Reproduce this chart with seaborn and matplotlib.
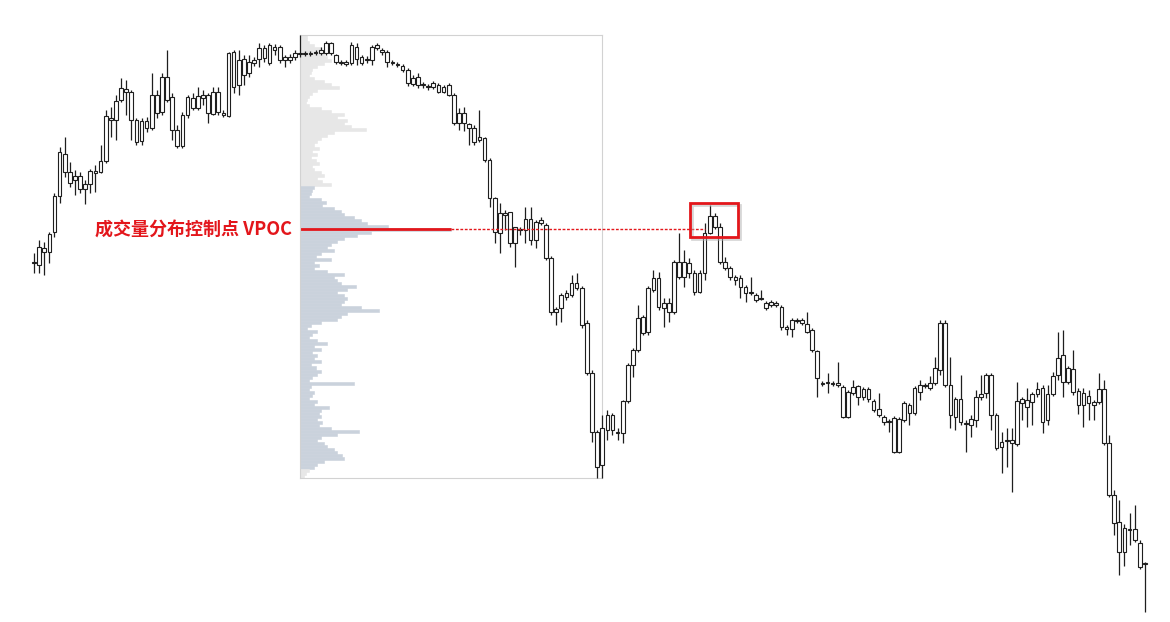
import matplotlib
matplotlib.use("Agg")
import matplotlib.pyplot as plt
from matplotlib.patches import Rectangle
from matplotlib.transforms import offset_copy
import numpy as np
import seaborn as sns

# OHLC (arbitrary price units)
opens = [377, 375, 388, 388, 408, 444, 486, 468, 464, 464,
         451, 456, 467, 468, 479, 520, 520, 540, 551, 548,
         520, 499, 512, 512, 527, 528, 563, 543, 494, 494,
         525, 532, 532, 545, 527, 526, 548, 525, 524, 588,
         555, 581, 567, 577, 581, 592, 577, 593, 593, 580,
         580, 583, 587, 586, 587, 587, 587, 587, 597, 585,
         578, 576, 577, 593, 583, 580, 580, 595, 590, 588,
         578, 576, 574, 570, 556, 563, 556, 554, 553, 555,
         548, 555, 545, 517, 527, 516, 512, 500, 502, 480,
         442, 407, 427, 428, 397, 411, 410, 421, 400, 417,
         415, 382, 328, 332, 343, 345, 357, 352, 317, 267,
         208, 175, 210, 225, 208, 207, 239, 275, 290, 323,
         308, 350, 362, 337, 328, 328, 378, 363, 377, 367,
         348, 367, 407, 424, 413, 378, 372, 363, 362, 353,
         348, 345, 342, 337, 335, 337, 333, 313, 311, 320,
         320, 316, 310, 289, 257, 257, 257, 255, 253, 223,
         247, 254, 243, 251, 239, 231, 223, 219, 222, 188,
         220, 235, 227, 248, 255, 252, 257, 270, 317, 255,
         223, 241, 217, 215, 220, 243, 247, 265, 225, 193,
         200, 200, 196, 237, 240, 238, 246, 252, 220, 246,
         265, 285, 258, 271, 249, 235, 244, 238, 238, 251,
         197, 145, 118, 88, 111, 111, 97, 77]
closes = [378, 393, 392, 406, 444, 488, 468, 457, 460, 451,
          456, 469, 469, 479, 524, 522, 539, 552, 548, 520,
          498, 519, 519, 545, 545, 563, 540, 510, 510, 525,
          543, 542, 544, 542, 545, 548, 528, 527, 587, 553,
          580, 565, 578, 580, 592, 582, 595, 590, 580, 583,
          583, 587, 586, 587, 586, 588, 590, 597, 587, 578,
          577, 578, 595, 581, 577, 581, 593, 592, 588, 578,
          577, 575, 570, 557, 562, 555, 555, 553, 557, 548,
          553, 545, 517, 527, 517, 512, 498, 503, 480, 442,
          408, 427, 425, 397, 413, 410, 421, 400, 418, 420,
          382, 328, 331, 345, 347, 357, 352, 315, 267, 208,
          173, 212, 225, 210, 207, 239, 275, 290, 322, 307,
          352, 362, 333, 332, 337, 378, 363, 378, 367, 348,
          367, 407, 424, 413, 378, 372, 363, 360, 353, 347,
          347, 340, 341, 332, 338, 335, 313, 311, 320, 319,
          317, 308, 290, 262, 256, 258, 256, 257, 223, 248,
          253, 243, 251, 241, 230, 225, 218, 218, 188, 221,
          237, 227, 252, 255, 254, 257, 272, 317, 255, 225,
          241, 218, 216, 221, 243, 246, 265, 225, 192, 198,
          199, 197, 239, 241, 233, 246, 251, 218, 246, 264,
          282, 258, 272, 248, 235, 247, 237, 235, 251, 197,
          145, 117, 88, 112, 110, 100, 73, 76]
highs = [387, 400, 398, 408, 447, 493, 503, 478, 470, 468,
         460, 471, 475, 495, 530, 533, 545, 562, 560, 550,
         522, 522, 523, 567, 550, 567, 590, 547, 515, 528,
         545, 547, 553, 550, 547, 553, 553, 530, 588, 590,
         590, 585, 585, 583, 597, 595, 597, 596, 595, 585,
         586, 590, 605, 589, 589, 590, 593, 599, 598, 586,
         580, 580, 598, 597, 585, 584, 595, 597, 592, 590,
         580, 578, 576, 572, 565, 567, 558, 556, 559, 557,
         555, 557, 547, 532, 533, 517, 515, 530, 503, 482,
         443, 437, 430, 428, 413, 413, 433, 433, 420, 423,
         417, 384, 333, 347, 350, 365, 367, 354, 320, 270,
         210, 225, 230, 227, 212, 240, 277, 292, 335, 325,
         354, 370, 368, 342, 342, 380, 407, 390, 382, 370,
         370, 417, 435, 427, 417, 383, 374, 365, 365, 355,
         363, 347, 350, 339, 340, 339, 335, 315, 322, 322,
         322, 328, 312, 290, 259, 267, 259, 278, 255, 250,
         260, 255, 253, 253, 241, 247, 225, 221, 224, 223,
         239, 237, 254, 260, 257, 264, 283, 320, 320, 283,
         243, 265, 220, 225, 250, 265, 267, 267, 227, 208,
         212, 212, 258, 243, 252, 248, 258, 255, 255, 268,
         308, 310, 274, 290, 252, 252, 250, 240, 267, 260,
         205, 150, 140, 116, 127, 135, 100, 78]
lows = [367, 367, 365, 377, 403, 437, 463, 453, 445, 447,
        436, 447, 448, 467, 477, 503, 500, 538, 525, 500,
        495, 495, 508, 510, 522, 525, 538, 500, 492, 492,
        522, 530, 530, 535, 517, 525, 525, 523, 523, 547,
        545, 555, 563, 574, 573, 578, 575, 585, 577, 573,
        577, 580, 583, 584, 584, 585, 585, 585, 585, 576,
        575, 574, 575, 575, 575, 577, 575, 590, 585, 573,
        575, 573, 568, 554, 554, 552, 552, 550, 551, 547,
        547, 544, 515, 510, 509, 495, 495, 498, 478, 433,
        397, 387, 410, 393, 373, 405, 397, 395, 392, 415,
        380, 325, 315, 318, 340, 343, 350, 312, 265, 198,
        162, 162, 200, 205, 200, 197, 237, 263, 288, 305,
        305, 348, 330, 313, 318, 326, 361, 353, 362, 345,
        347, 360, 406, 411, 376, 370, 360, 355, 342, 338,
        345, 338, 340, 330, 333, 333, 310, 305, 303, 317,
        315, 307, 288, 243, 254, 247, 254, 253, 222, 222,
        245, 235, 240, 238, 228, 223, 215, 208, 187, 187,
        218, 215, 225, 240, 252, 250, 255, 265, 253, 212,
        210, 215, 188, 203, 213, 240, 242, 210, 190, 167,
        173, 148, 194, 220, 213, 215, 243, 207, 215, 244,
        260, 243, 256, 245, 226, 213, 220, 220, 236, 195,
        143, 105, 65, 74, 95, 98, 71, 28]

# volume profile of the boxed range, rows from the range high down to the range low
profile_volume = [7, 7, 9, 14, 21, 26, 24, 27, 31, 24,
                  17, 12, 11, 9, 14, 24, 31, 39, 17, 12,
                  9, 7, 6, 9, 21, 31, 44, 37, 47, 44,
                  51, 66, 34, 27, 21, 17, 14, 19, 12, 17,
                  11, 16, 19, 12, 14, 21, 24, 17, 22, 31,
                  14, 12, 11, 9, 21, 26, 22, 34, 41, 44,
                  54, 61, 67, 88, 151, 71, 57, 44, 37, 31,
                  27, 34, 21, 16, 31, 14, 19, 14, 27, 44,
                  34, 37, 41, 56, 47, 37, 44, 47, 44, 41,
                  61, 79, 47, 41, 37, 21, 11, 7, 17, 12,
                  9, 17, 27, 14, 21, 12, 17, 14, 21, 11,
                  16, 21, 17, 12, 9, 54, 11, 9, 14, 12,
                  9, 17, 14, 29, 21, 19, 21, 17, 22, 19,
                  31, 59, 37, 21, 17, 24, 27, 34, 37, 42,
                  44, 24, 17, 14, 9, 6, 4]
value_area_low, value_area_high = 170, 455
range_start, range_end = 52, 111

label = "成交量分布控制点 VPOC"
RED = "#e3161b"
INK = "#1e1e1e"

sns.set_theme(style="white")
plt.rcParams["font.family"] = ["Noto Sans CJK SC", "DejaVu Sans"]

opens = np.array(opens, dtype=float)
closes = np.array(closes, dtype=float)
highs = np.array(highs, dtype=float)
lows = np.array(lows, dtype=float)
idx = np.arange(len(closes))

fig = plt.figure(figsize=(11.7, 6.22), dpi=100)
ax = fig.add_axes([0, 0, 1, 1])
ax.set_xlim(-6.64, 221.9)
ax.set_ylim(18, 640)
ax.axis("off")

# candles
ax.vlines(idx, lows, highs, color=INK, lw=0.9, zorder=3)
body_lo = np.minimum(opens, closes)
body_h = np.maximum(np.abs(closes - opens), 0.8)
ax.bar(idx, body_h, bottom=body_lo, width=0.72, color="white",
       edgecolor=INK, linewidth=0.8, zorder=4)

# volume profile box
top = highs[range_start:range_end + 1].max()
bottom = lows[range_start:range_end + 1].min()
edges = np.linspace(top, bottom, len(profile_volume) + 1)
centers = (edges[:-1] + edges[1:]) / 2
prof = ax.inset_axes([range_start, bottom, range_end - range_start, top - bottom],
                     transform=ax.transData, zorder=1)
prof.set_facecolor("none")
in_va = (centers >= value_area_low) & (centers <= value_area_high)
colors = np.where(in_va, "#cad2dc", "#e7e7e7")
prof.barh(centers, profile_volume, height=edges[0] - edges[1], color=colors,
          edgecolor=colors, linewidth=0.4)
prof_width = 303
prof.set_xlim(0, prof_width)
prof.set_ylim(bottom, top)
prof.set_xticks([])
prof.set_yticks([])
for s in prof.spines.values():
    s.set_visible(True)
    s.set_color("#d2d2d2")
    s.set_linewidth(0.8)

poc = int(np.argmax(profile_volume))
vpoc = centers[poc]
prof.hlines(vpoc, 0, profile_volume[poc], color=RED, lw=2)

# dotted VPOC extension until price comes back to it
start_x = range_start + profile_volume[poc] / prof_width * (range_end - range_start)
after = np.where(highs[range_end + 1:] >= vpoc)[0]
end_x = range_end + 1 + after[0]
ax.hlines(vpoc, start_x, end_x, color=RED, lw=1.0, linestyles=(0, (2, 1.2)), zorder=5)

# highlight the retest peak, with a soft shadow
win = highs[range_end + 1:range_end + 31]
peak = range_end + 1 + int(np.argmax(win))
rect_xy = (peak - 3.9, vpoc - 8)
rect_w, rect_h = 9.4, highs[peak] + 2 - (vpoc - 8)
shadow = offset_copy(ax.transData, fig=fig, x=2, y=-2, units="dots")
ax.add_patch(Rectangle(rect_xy, rect_w, rect_h, fill=False, edgecolor="#b0b0b0",
                       alpha=0.5, lw=2, transform=shadow, zorder=5))
ax.add_patch(Rectangle(rect_xy, rect_w, rect_h, fill=False, edgecolor=RED, lw=2, zorder=6))

ax.annotate(label, xy=(range_start, vpoc), xytext=(-6, 0), textcoords="offset points",
            ha="right", va="center", color=RED, fontsize=13, fontweight="bold")

fig.savefig("out.png", dpi=100, facecolor="white")
